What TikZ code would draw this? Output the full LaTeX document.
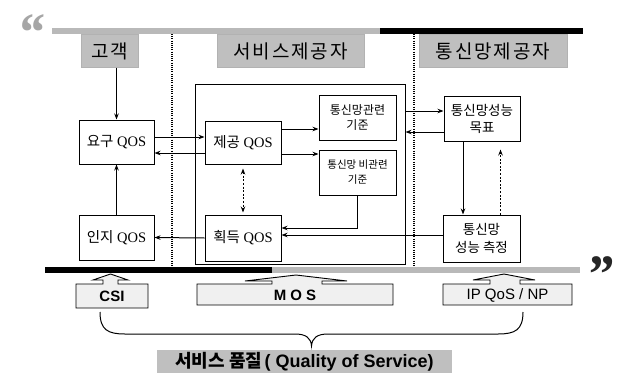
\documentclass[tikz,border=0pt]{standalone}
\usepackage{fontspec}
\setmainfont{Liberation Serif}
\newfontfamily\kr{Noto Sans CJK KR}
\newfontfamily\krhead[LetterSpace=10]{Noto Sans CJK KR}
\newfontfamily\sansf{Liberation Sans}
\usetikzlibrary{arrows.meta}
\begin{document}
\begin{tikzpicture}[x=1pt,y=-1pt,
  box/.style={draw, line width=1pt, fill=white, align=center, inner sep=1pt},
  qbox/.style={box, font=\fontsize{14.5}{16}\selectfont},
  sbox/.style={box, font=\kr\fontsize{12}{15}\selectfont},
  head/.style={fill=gray!50, draw=gray!60, inner sep=0pt, minimum height=33pt,
    font=\krhead\fontsize{19}{19}\selectfont},
  arr/.style={-{Stealth[length=6pt,width=4.5pt]}, line width=1pt},
  darr/.style={arr, dash pattern=on 2pt off 1.6pt},
  sep/.style={line width=1.4pt, dash pattern=on 1pt off 1.2pt},
  callout/.style={draw, line width=0.9pt, fill=gray!12},
]
\useasboundingbox (0,0) rectangle (617,380);

% quotes
\node[anchor=base, font=\bfseries\itshape\fontsize{54}{54}\selectfont, text=gray!70, inner sep=0pt] (q1) at (31,50) {“};
\node[anchor=base, font=\bfseries\itshape\fontsize{54}{54}\selectfont, text=black!85, inner sep=0pt] (q2) at (600,292) {”};

% bars
\fill[gray!55] (52,28) rectangle (380,34);
\fill[black] (380,28) rectangle (583,34);
\fill[black] (45,267) rectangle (272,273);
\fill[gray!55] (272,267) rectangle (580,273);

% separators
\draw[sep] (172,34) -- (172,267);
\draw[sep] (414,34) -- (414,267);

% headers
\node[head, minimum width=57pt] (gogaek) at (109.5,51) {고객};
\node[head, minimum width=147pt] (spro) at (290.5,51) {서비스제공자};
\node[head, minimum width=148pt] (npro) at (493,51) {통신망제공자};

% big box
\node[draw, line width=1pt, minimum width=210pt, minimum height=180pt] (big) at (300,174) {};

% boxes
\node[qbox, minimum width=75pt, minimum height=44pt] (yogu) at (116.5,142) {{\kr 요구} QOS};
\node[qbox, minimum width=75pt, minimum height=45pt] (inji) at (116.5,237.5) {{\kr 인지} QOS};
\node[qbox, minimum width=76pt, minimum height=43pt] (jegong) at (243,142.5) {{\kr 제공} QOS};
\node[qbox, minimum width=76pt, minimum height=46pt] (hoek) at (243,238) {{\kr 획득} QOS};
\node[sbox, minimum width=77pt, minimum height=45pt] (gwan) at (357.5,117.5) {통신망관련\\기준};
\node[sbox, minimum width=77pt, minimum height=45pt, font=\kr\fontsize{10.5}{15}\selectfont] (bigwan) at (357.5,172.5) {통신망 비관련\\기준};
\node[sbox, minimum width=76pt, minimum height=45pt, font=\kr\fontsize{13.5}{17}\selectfont] (mok) at (482,118.5) {통신망성능\\목표};
\node[sbox, minimum width=77pt, minimum height=47pt, font=\kr\fontsize{13.5}{18}\selectfont] (cheuk) at (481.5,238.5) {통신망\\성능 측정};

% connectors
\draw[arr] (gogaek.south -| yogu.north) -- (yogu.north);
\draw[arr] (inji.north) -- (yogu.south);
\draw[arr] (yogu.east |- 0,137) -- (jegong.west |- 0,137);
\draw[arr] (jegong.west |- 0,153) -- (yogu.east |- 0,153);
\draw[darr, {Stealth[length=6pt,width=4.5pt]}-{Stealth[length=6pt,width=4.5pt]}, shorten <=4pt, shorten >=2pt] (jegong.south) -- (hoek.north);
\draw[arr] (jegong.east |- 0,129) -- (gwan.west |- 0,129);
\draw[arr] (jegong.east |- 0,154) -- (bigwan.west |- 0,154);
\draw[arr] (bigwan.south) |- (hoek.east |- 0,228);
\draw[arr] (cheuk.west |- 0,235) -- (hoek.east |- 0,235);
\draw[arr] (hoek.west) -- (inji.east);
\draw[arr] (big.east |- 0,111) -- (mok.west |- 0,111);
\draw[arr] (mok.west |- 0,132) -- (big.east |- 0,132);
\draw[arr] ([xshift=-19pt]mok.south) -- ([xshift=-19pt]mok.south |- cheuk.north);
\draw[darr, shorten >=8pt] ([xshift=19pt]cheuk.north) -- ([xshift=19pt]cheuk.north |- mok.south);

% callouts
\draw[callout] (76,284) -- (103,284) -- (103,280) -- (93,280) -- (110.5,274) -- (128,280) -- (118,280) -- (118,284) -- (148,284) -- (148,308) -- (76,308) -- cycle;
\node[font=\sansf\bfseries\fontsize{15}{15}\selectfont] (csi) at (112,296.5) {CSI};
\draw[callout] (197,284) -- (272,284) -- (272,281) -- (245,281) -- (296,275) -- (347,281) -- (322,281) -- (322,284) -- (393,284) -- (393,305) -- (197,305) -- cycle;
\node[font=\sansf\bfseries\fontsize{15}{15}\selectfont] (mos) at (295,295) {M O S};
\draw[callout] (443,284) -- (490,284) -- (490,280) -- (473,280) -- (504,274) -- (535,280) -- (520,280) -- (520,284) -- (572,284) -- (572,305) -- (443,305) -- cycle;
\node[font=\sansf\fontsize{15}{15}\selectfont] (ipq) at (507.5,295) {IP QoS / NP};

% brace
\draw[line width=1pt] (100,312) .. controls (100,330) and (108,334) .. (125,334) -- (295,334) .. controls (306,334) and (311,338) .. (311.5,346)
  .. controls (312,338) and (317,334) .. (328,334) -- (498,334) .. controls (515,334) and (523,330) .. (523,312);

% title
\node[fill=gray!50, minimum width=295pt, minimum height=23pt, inner sep=0pt] (title) at (304.5,361.5)
  {{\kr\bfseries\fontsize{18}{18}\selectfont 서비스 품질} {\sansf\bfseries\fontsize{18}{18}\selectfont ( Quality of Service)}};
\end{tikzpicture}
\end{document}
